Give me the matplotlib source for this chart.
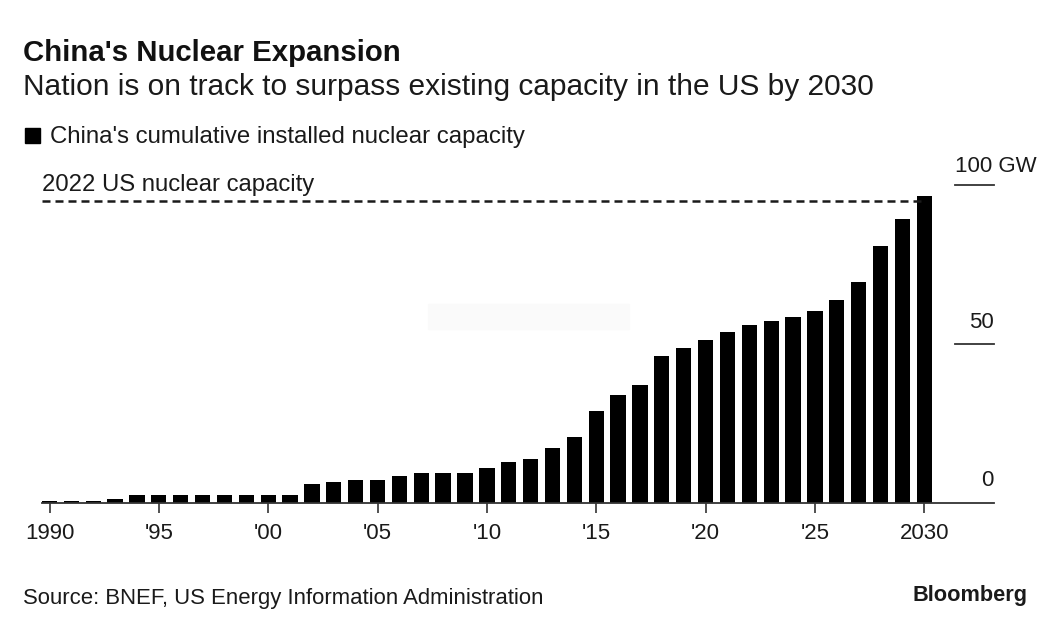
"""China's cumulative nuclear capacity bars, Bloomberg style."""

import matplotlib

matplotlib.use("Agg")
import matplotlib.pyplot as plt
import numpy as np
from matplotlib.patches import FancyBboxPatch
from matplotlib.transforms import blended_transform_factory

years = np.arange(1990, 2031)
capacity = [
    0.4, 0.6, 0.6, 1.2, 2.3, 2.3, 2.3, 2.3, 2.3, 2.3, 2.3, 2.3, 5.7, 6.5,
    7.2, 7.2, 8.2, 9.2, 9.2, 9.2, 11.0, 12.6, 13.6, 17.2, 20.6, 28.8, 33.8,
    37.0, 46.0, 48.7, 51.2, 53.7, 56.0, 57.2, 58.5, 60.4, 63.8, 69.5, 80.8,
    89.3, 96.6,
]
us_capacity = 95
xtick_years = [1990, 1995, 2000, 2005, 2010, 2015, 2020, 2025, 2030]
xtick_labels = ["1990", "'95", "'00", "'05", "'10", "'15", "'20", "'25", "2030"]
ytick_vals = [0, 50, 100]
ytick_labels = ["0", "50", "100 GW"]

W, H = 1061, 631
INK = "#1a1a1a"

plt.rcParams["font.family"] = ["Liberation Sans", "DejaVu Sans"]

fig = plt.figure(figsize=(W / 100, H / 100), dpi=100, facecolor="white")
ax = fig.add_axes([42 / W, 1 - 502.5 / H, 952 / W, 317.5 / H])

ax.bar(years, capacity, width=0.7, color="black", linewidth=0)
ax.set_xlim(1989.657, 2033.19)
ax.set_ylim(0, 100)

# dashed reference line for the US, runs from the axis start to the last bar
ax.plot([1989.657, 2030], [us_capacity, us_capacity], color=INK, lw=1.8,
        dashes=(3.2, 2.0), clip_on=False)
ax.text(0, us_capacity + 1.6, "2022 US nuclear capacity", fontsize=17.2,
        color=INK, va="bottom", transform=ax.get_yaxis_transform())

for side in ["top", "left", "right"]:
    ax.spines[side].set_visible(False)
ax.spines["bottom"].set_linewidth(1.3)
ax.spines["bottom"].set_color("#333333")

ax.set_yticks([])
ax.set_xticks(xtick_years)
ax.set_xticklabels(xtick_labels, fontsize=16, color=INK)
ax.tick_params(axis="x", length=7, width=1.2, color="#333333", pad=8)

# right hand value labels sit on top of short rules
trans = blended_transform_factory(ax.transAxes, ax.transData)
for val, label in zip(ytick_vals, ytick_labels):
    if val > 0:
        ax.plot([0.9595, 1.0], [val, val], color="#333333", lw=1.3,
                transform=trans, clip_on=False)
    if label == "100 GW":
        ax.text(0.9595, val + 2.5, label, transform=trans, fontsize=16,
                color=INK, ha="left", va="bottom")
    else:
        ax.text(1.0, val + 3.5, label, transform=trans, fontsize=16,
                color=INK, ha="right", va="bottom")

# faint smudge left in the middle of the source image
fig.patches.append(FancyBboxPatch((430 / W, 1 - 329 / H), 198 / W, 24 / H,
                                  boxstyle="round,pad=0.002", color="#fafafa",
                                  linewidth=0, transform=fig.transFigure))

fig.text(23 / W, 1 - 61 / H, "China's Nuclear Expansion", fontsize=21.2,
         fontweight="bold", color="#111111", va="baseline")
fig.text(23 / W, 1 - 95 / H,
         "Nation is on track to surpass existing capacity in the US by 2030",
         fontsize=21.5, color=INK, va="baseline")

fig.patches.append(plt.Rectangle((25 / W, 1 - 143 / H), 15 / W, 15 / H,
                                 color="black", transform=fig.transFigure))
fig.text(50 / W, 1 - 143 / H, "China's cumulative installed nuclear capacity",
         fontsize=17.3, color=INK, va="baseline")

fig.text(23 / W, 1 - 604 / H, "Source: BNEF, US Energy Information Administration",
         fontsize=15.9, color=INK, va="baseline")
fig.text(1028 / W, 1 - 601 / H, "Bloomberg", fontsize=15.7, fontweight="bold",
         color=INK, ha="right", va="baseline")

fig.savefig("out.png", dpi=100, facecolor="white")
